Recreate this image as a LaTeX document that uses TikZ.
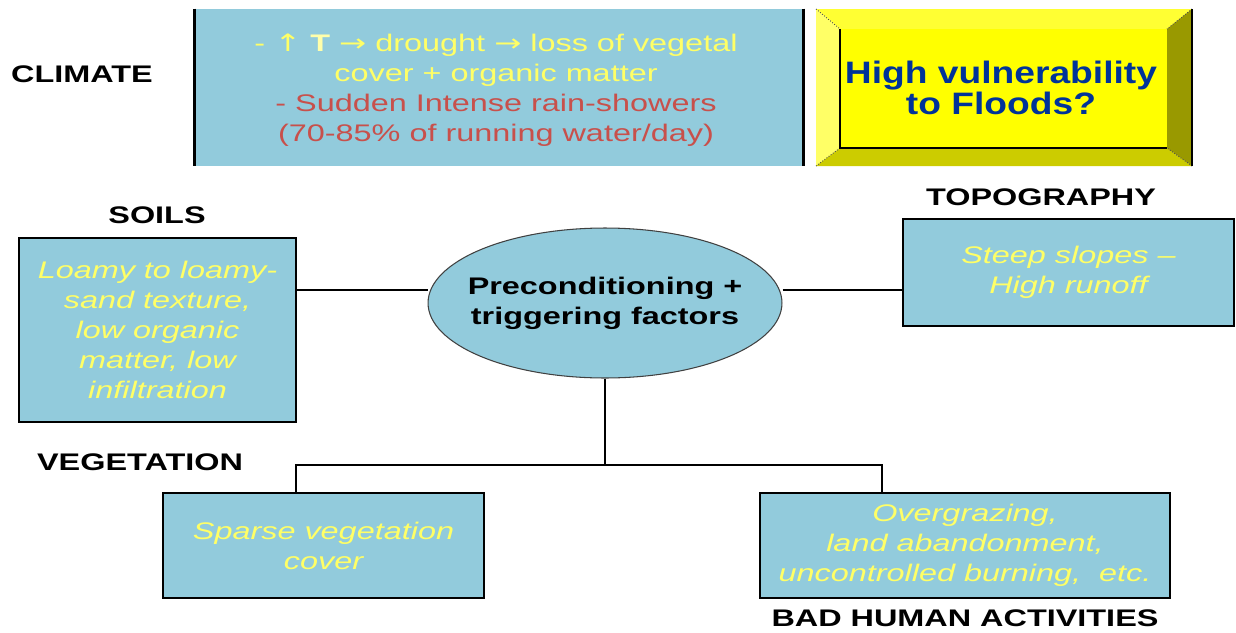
\documentclass[tikz,border=0pt]{standalone}
\usepackage{fontspec}
\setmainfont{Liberation Sans}
\newfontfamily\widefont[FakeStretch=1.35]{Liberation Sans}
\newfontfamily\arrowfont[FakeStretch=1.35]{DejaVu Sans}
\newfontfamily\buttonfont[FakeStretch=1.2]{Liberation Sans}
\usetikzlibrary{shapes.geometric,backgrounds}
\definecolor{boxblue}{HTML}{92CBDC}
\definecolor{softyellow}{HTML}{FFFF66}
\definecolor{paleyellow}{HTML}{FFFFAA}
\definecolor{rainred}{HTML}{C8504B}
\definecolor{floodblue}{HTML}{003399}
\definecolor{facetop}{HTML}{FFFF33}
\definecolor{faceleft}{HTML}{FFFF66}
\definecolor{facemid}{HTML}{FFFF00}
\definecolor{facebottom}{HTML}{CCCC00}
\definecolor{faceright}{HTML}{999900}
\newcommand{\upsym}{{\arrowfont\fontsize{13.66pt}{17.07pt}\selectfont ↑}}
\newcommand{\tosym}{{\arrowfont\fontsize{13.66pt}{17.07pt}\selectfont →}}
\tikzset{
	heading/.style={font=\widefont\bfseries\fontsize{13.66pt}{17.07pt}\selectfont, inner sep=0pt},
	factorbox/.style={fill=boxblue, draw=black, line width=1.15pt, align=center, text=softyellow,
		font=\widefont\itshape\fontsize{13.66pt}{17.07pt}\selectfont, inner sep=0pt},
	link/.style={line width=1.1pt},
	bevelcorner/.style={black!70, line width=0.5pt, densely dotted},
}
\begin{document}
\begin{tikzpicture}[x=0.02cm,y=-0.02cm]
	\useasboundingbox (0,0) rectangle (1236,632);
	%Headings
	\node [heading] (climatelabel) at (82,74) {CLIMATE};
	\node [heading] (soilslabel) at (157,215) {SOILS};
	\node [heading] (topolabel) at (1041,197) {TOPOGRAPHY};
	\node [heading] (veglabel) at (140,462) {VEGETATION};
	\node [heading] (humanlabel) at (965,618) {BAD HUMAN ACTIVITIES};
	%Climate box, only side borders
	\node [fill=boxblue, minimum width=12.16cm, minimum height=3.14cm, inner sep=0pt] (climate) at (499,87.5) {};
	\draw [line width=1.4pt] (climate.north west) -- (climate.south west);
	\draw [line width=1.4pt] (climate.north east) -- (climate.south east);
	\node [align=center, inner sep=0pt, font=\widefont\fontsize{13.66pt}{17.07pt}\selectfont] (climatetext) at (496,90) {%
		{\color{softyellow}- \upsym{} \textbf{\textcolor{paleyellow}{T}} \tosym{} drought \tosym{} loss of vegetal}\\
		{\color{softyellow}cover + organic matter}\\
		{\color{rainred}- Sudden Intense rain-showers}\\
		{\color{rainred}(70-85\% of running water/day)}};
	%The button
	\coordinate (otl) at (816,9);
	\coordinate (otr) at (1192,9);
	\coordinate (obr) at (1192,166);
	\coordinate (obl) at (816,166);
	\coordinate (itl) at (840,29);
	\coordinate (itr) at (1167,29);
	\coordinate (ibr) at (1167,148);
	\coordinate (ibl) at (840,148);
	\fill [facetop] (otl) -- (otr) -- (itr) -- (itl) -- cycle;
	\fill [faceleft] (otl) -- (itl) -- (ibl) -- (obl) -- cycle;
	\fill [facebottom] (obl) -- (ibl) -- (ibr) -- (obr) -- cycle;
	\fill [faceright] (itr) -- (otr) -- (obr) -- (ibr) -- cycle;
	\fill [facemid] (itl) rectangle (ibr);
	\draw [bevelcorner] (otl) -- (itl);
	\draw [bevelcorner] (otr) -- (itr);
	\draw [bevelcorner] (obl) -- (ibl);
	\draw [bevelcorner] (obr) -- (ibr);
	\draw [line width=1.2pt] (itl) -- (ibl) -- (ibr);
	\draw [line width=1.4pt] (otr) -- (obr);
	\node [align=center, inner sep=0pt, text=floodblue,
		font=\buttonfont\bfseries\fontsize{17.64pt}{17.64pt}\selectfont] (flood) at (1001,88) {High vulnerability\\to Floods?};
	%Core ellipse
	\node [ellipse, fill=boxblue, draw=black!75, line width=0.6pt, minimum width=7.08cm, minimum height=3cm,
		inner xsep=-12pt, inner ysep=0pt, align=center,
		font=\widefont\bfseries\fontsize{13.66pt}{17.07pt}\selectfont] (core) at (605,303)
		{Preconditioning +\\triggering factors};
	%Factor boxes
	\node [factorbox, minimum width=5.54cm, minimum height=3.68cm] (soils) at (157.5,330)
		{Loamy to loamy-\\sand texture,\\low organic\\matter, low\\infiltration};
	\node [factorbox, minimum width=6.62cm, minimum height=2.14cm] (topo) at (1068.5,272.5)
		{Steep slopes –\\High runoff};
	\node [factorbox, minimum width=6.42cm, minimum height=2.1cm] (veg) at (323.5,545.5)
		{Sparse vegetation\\cover};
	\node [factorbox, minimum width=8.2cm, minimum height=2.1cm] (human) at (965,545.5)
		{Overgrazing,\\land abandonment,\\uncontrolled burning,~ etc.};
	%Connectors
	\coordinate (hub) at (605,290);
	\coordinate (split) at (605,465);
	\coordinate (vegtop) at (296,493);
	\coordinate (humtop) at (882,493);
	\begin{scope}[on background layer]
		\draw [link] (soils.east |- hub) -- (core.west |- hub);
		\draw [link] (core.east |- hub) -- (topo.west |- hub);
		\draw [link] (core.south) -- (split);
		\draw [link] (split) -| (vegtop);
		\draw [link] (split) -| (humtop);
	\end{scope}
\end{tikzpicture}
\end{document}
